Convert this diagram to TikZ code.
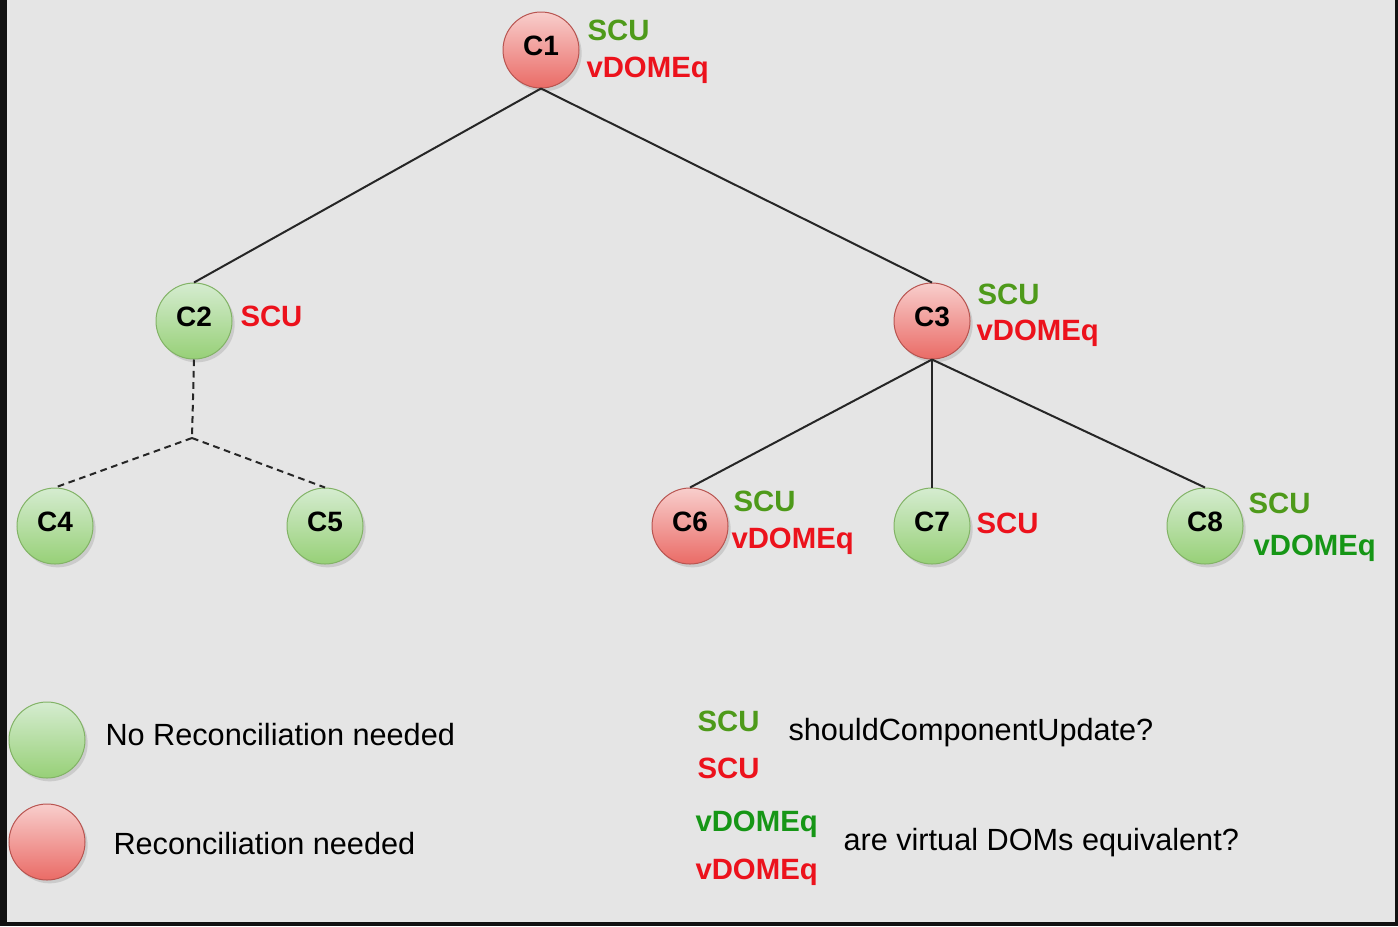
\documentclass[tikz,border=0pt]{standalone}
\usepackage{fontspec}
\setmainfont{Liberation Sans}
\usetikzlibrary{shadows}
\definecolor{bgdark}{RGB}{17,17,17}
\definecolor{bglight}{RGB}{229,229,229}
\definecolor{okfill}{RGB}{213,236,208}
\definecolor{okfilltwo}{RGB}{151,208,119}
\definecolor{okline}{RGB}{130,179,102}
\definecolor{badfill}{RGB}{248,206,204}
\definecolor{badfilltwo}{RGB}{234,107,102}
\definecolor{badline}{RGB}{184,84,80}
\definecolor{scugreen}{RGB}{78,154,26}
\definecolor{domgreen}{RGB}{22,150,22}
\definecolor{txtred}{RGB}{236,18,28}

\tikzset{every picture/.style={line width=0.75pt},
  comp/.style={circle, minimum size=57pt, inner sep=0pt, line width=0.75pt,
    font=\fontsize{21}{24}\selectfont\bfseries, text height=16pt, text depth=8pt,
    drop shadow={shadow xshift=2pt, shadow yshift=-2.5pt, opacity=0.25}},
  okcomp/.style={comp, draw=okline, top color=okfill, bottom color=okfilltwo},
  badcomp/.style={comp, draw=badline, top color=badfill, bottom color=badfilltwo},
  flag/.style={anchor=west, inner sep=0pt, font=\fontsize{22}{26}\selectfont\bfseries},
  legendtext/.style={anchor=west, inner sep=0pt, font=\fontsize{23}{27}\selectfont},
  link/.style={draw=black!85, line width=1.5pt},
  dlink/.style={link, dash pattern=on 5pt off 3.5pt}}

\begin{document}
\begin{tikzpicture}[x=0.75pt,y=0.75pt,yscale=-1,xscale=1]
\useasboundingbox (0,0) rectangle (1398,926);
%Shape: Rectangle [id:frame]
\fill [bgdark] (0,0) rectangle (1398,926);
\fill [bglight] (7,0) rectangle (1395,922);
%Components
\node [badcomp] (c1) at (541,50) {C1};
\node [okcomp] (c2) at (194,321) {C2};
\node [badcomp] (c3) at (932,321) {C3};
\node [okcomp] (c4) at (55,526) {C4};
\node [okcomp] (c5) at (325,526) {C5};
\node [badcomp] (c6) at (690,526) {C6};
\node [okcomp] (c7) at (932,526) {C7};
\node [okcomp] (c8) at (1205,526) {C8};
%Straight Lines
\coordinate (split) at (192,438);
\draw [link] (c1.south) -- (c2.north);
\draw [link] (c1.south) -- (c3.north);
\draw [link] (c3.south) -- (c6.north);
\draw [link] (c3.south) -- (c7.north);
\draw [link] (c3.south) -- (c8.north);
\draw [dlink] (c2.south) -- (split);
\draw [dlink] (split) -- (c4.north);
\draw [dlink] (split) -- (c5.north);
% Text Node
\node [flag, text=scugreen] (c1scu) at (587,30) {SCU};
\node [flag, text=txtred] (c1dom) at (586,70) {vDOMEq};
\node [flag, text=txtred] (c2scu) at (240,316) {SCU};
\node [flag, text=scugreen] (c3scu) at (977,294) {SCU};
\node [flag, text=txtred] (c3dom) at (976,333) {vDOMEq};
\node [flag, text=scugreen] (c6scu) at (733,501) {SCU};
\node [flag, text=txtred] (c6dom) at (731,541) {vDOMEq};
\node [flag, text=txtred] (c7scu) at (976,523) {SCU};
\node [flag, text=scugreen] (c8scu) at (1248,503) {SCU};
\node [flag, text=domgreen] (c8dom) at (1253,548) {vDOMEq};
%Legend
\node [okcomp] (okkey) at (47,740) {};
\node [badcomp] (badkey) at (47,842) {};
\node [legendtext] (oktext) at (105,735) {No Reconciliation needed};
\node [legendtext] (badtext) at (113,844) {Reconciliation needed};
\node [flag, text=scugreen] (scuyes) at (697,721) {SCU};
\node [flag, text=txtred] (scuno) at (697,768) {SCU};
\node [legendtext] (scutext) at (788,733) {shouldComponentUpdate?};
\node [flag, text=domgreen] (domyes) at (695,824) {vDOMEq};
\node [flag, text=txtred] (domno) at (695,872) {vDOMEq};
\node [legendtext] (domtext) at (843,843) {are virtual DOMs equivalent?};
\end{tikzpicture}
\end{document}
